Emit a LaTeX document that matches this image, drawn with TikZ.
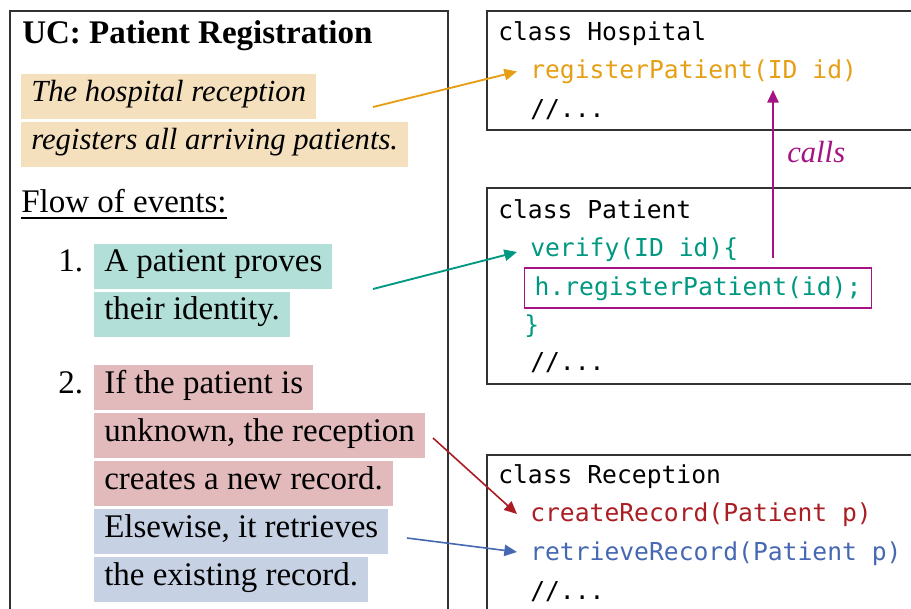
\documentclass[tikz,border=0pt]{standalone}
\usepackage{fontspec}
\setmainfont{Liberation Serif}
\setmonofont{DejaVu Sans Mono}
\usetikzlibrary{arrows.meta}
\definecolor{cOr}{RGB}{230,159,20}
\definecolor{cOrL}{RGB}{245,224,190}
\definecolor{cTe}{RGB}{0,152,128}
\definecolor{cTeL}{RGB}{178,223,216}
\definecolor{cRe}{RGB}{170,30,35}
\definecolor{cReL}{RGB}{226,186,188}
\definecolor{cBl}{RGB}{70,104,178}
\definecolor{cBlL}{RGB}{198,209,228}
\definecolor{cMa}{RGB}{165,20,130}
\definecolor{cFrame}{RGB}{50,50,50}
\begin{document}
\begin{tikzpicture}[x=0.75pt,y=-0.75pt,
  serif/.style={font=\fontsize{24.75}{30}\selectfont},
  ital/.style={font=\fontsize{23}{28}\selectfont\itshape},
  mono/.style={font=\fontsize{18.5}{22}\selectfont\ttfamily, inner sep=0pt, anchor=base west},
  hl/.style={fill=#1, anchor=base west, inner xsep=7.5pt, inner ysep=0pt, text height=21pt, text depth=12.75pt},
  plain/.style={inner sep=0pt, anchor=base west},
  arr/.style={-{Triangle[length=9.5pt,width=8.5pt]}, line width=1.4pt},
  frame/.style={draw=cFrame, line width=1.1pt}
]
\useasboundingbox (0,0) rectangle (911,608);
\clip (0,0) rectangle (911,608);
% left use-case panel
\draw[frame] (10,11) rectangle (448,650);
\node[plain, serif] (title) at (22,43) {\bfseries UC: Patient Registration};
\node[hl=cOrL, ital] (o1) at (21,101.5) {The hospital reception};
\node[hl=cOrL, ital] (o2) at (21,149.5) {registers all arriving patients.};
\node[plain, serif] (flow) at (21,212) {Flow of events:};
\draw[line width=1.1pt] ([yshift=-4.5pt]flow.base west) -- ([yshift=-4.5pt]flow.base east);
\node[plain, serif] (n1) at (58,271.5) {1.};
\node[hl=cTeL, serif] (t1) at (94,271.5) {A patient proves};
\node[hl=cTeL, serif] (t2) at (94,319.5) {their identity.};
\node[plain, serif] (n2) at (58,393) {2.};
\node[hl=cReL, serif] (r1) at (94,393) {If the patient is};
\node[hl=cReL, serif] (r2) at (94,441) {unknown, the reception};
\node[hl=cReL, serif] (r3) at (94,489) {creates a new record.};
\node[hl=cBlL, serif] (b1) at (94,537) {Elsewise, it retrieves};
\node[hl=cBlL, serif] (b2) at (94,585) {the existing record.};
% class Hospital
\draw[frame] (487,11) rectangle (950,130);
\node[mono] (hosp) at (498,40.5) {class Hospital};
\node[mono, text=cOr] (regP) at (530,78) {registerPatient(ID id)};
\node[mono] (hdots) at (530,117) {//...};
% class Patient
\draw[frame] (487,188) rectangle (950,384);
\node[mono] (pat) at (498,218) {class Patient};
\node[mono, text=cTe] (verify) at (530,256) {verify(ID id)\{};
\node[mono, text=cTe, draw=cMa, line width=1pt, inner xsep=7.5pt, inner ysep=0pt,
      text height=20.25pt, text depth=9.75pt] (hreg) at (524,295) {h.registerPatient(id);};
\node[mono, text=cTe] (close) at (524,333) {\}};
\node[mono] (pdots) at (530,370) {//...};
% class Reception
\draw[frame] (487,455) rectangle (950,650);
\node[mono] (rec) at (498,483.5) {class Reception};
\node[mono, text=cRe] (cRec) at (530,521.5) {createRecord(Patient p)};
\node[mono, text=cBl] (rRec) at (530,560) {retrieveRecord(Patient p)};
\node[mono] (rdots) at (530,599) {//...};
% connector end points
\coordinate (oS) at (373,107);
\coordinate (oT) at (517,71.5);
\coordinate (tS) at (373,289);
\coordinate (tT) at (517,252);
\coordinate (rS) at (433,438);
\coordinate (rT) at (517,514);
\coordinate (bS) at (407,538);
\coordinate (bT) at (517,552);
\coordinate (cS) at (773,258);
\coordinate (cT) at (773,90);
% connectors
\draw[arr, cOr] (oS) -- (oT);
\draw[arr, cTe] (tS) -- (tT);
\draw[arr, cRe, line width=1.2pt] (rS) -- (rT);
\draw[arr, cBl, line width=1.2pt] (bS) -- (bT);
\draw[arr, cMa] (cS) -- (cT);
\node[plain, ital, text=cMa] (calls) at (787,162) {calls};
\end{tikzpicture}
\end{document}
